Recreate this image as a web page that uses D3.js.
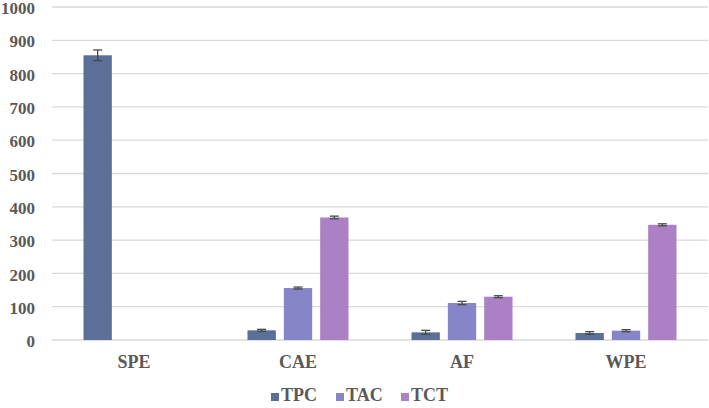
<!DOCTYPE html>
<html>
<head>
  <meta charset="utf-8">
  <title>TPC TAC TCT</title>
  <style>
    body { margin: 0; background: #fff; }
    text { font-family: "Liberation Serif", "Times New Roman", serif; font-weight: bold; fill: #595959; }
  </style>
</head>
<body>
  <svg></svg>
  <script src="https://cdnjs.cloudflare.com/ajax/libs/d3/7.8.5/d3.min.js"></script>
  <script>
    var width = 709,
      height = 408;

    // data
    var categories = ["SPE", "CAE", "AF", "WPE"];
    var series = ["TPC", "TAC", "TCT"];
    var colors = ["#5b6f99", "#8585c8", "#ab80c5"];
    var TPC = [855, 29, 23, 21];
    var TAC = [null, 156, 111, 28];
    var TCT = [null, 368, 130, 346];
    var TPCerr = [16, 3, 6, 4];
    var TACerr = [null, 3, 5, 3];
    var TCTerr = [null, 4, 3, 3];
    var yTicks = [0, 100, 200, 300, 400, 500, 600, 700, 800, 900, 1000];

    var values = [TPC, TAC, TCT];
    var errs = [TPCerr, TACerr, TCTerr];

    var margin = { left: 52, right: 1, top: 7, bottom: 68 };
    var svg = d3.select("svg").attr("width", width).attr("height", height);

    var y = d3.scaleLinear().domain([0, 1000])
      .range([height - margin.bottom, margin.top]);
    var x0 = d3.scaleBand().domain(categories)
      .range([margin.left, width - margin.right])
      .paddingInner(0.384).paddingOuter(0.192);
    var x1 = d3.scaleBand().domain(series)
      .range([0, x0.bandwidth()])
      .paddingInner(0.22).paddingOuter(0);

    // gridlines
    svg.append("g").selectAll("line").data(yTicks)
      .enter().append("line")
      .attr("x1", margin.left).attr("x2", width - margin.right)
      .attr("y1", d => y(d)).attr("y2", d => y(d))
      .style("stroke", "#d9d9d9").style("stroke-width", 1.3);

    // y tick labels
    svg.append("g").selectAll("text").data(yTicks)
      .enter().append("text")
      .attr("x", 35).attr("y", d => y(d))
      .attr("dy", "0.42em")
      .attr("text-anchor", "end")
      .attr("font-size", "17px")
      .text(d => d);

    // bars
    var rows = [];
    categories.forEach(function (c, i) {
      series.forEach(function (s, j) {
        if (values[j][i] != null) rows.push({ cat: c, s: s, j: j, v: values[j][i], e: errs[j][i] });
      });
    });

    svg.append("g").selectAll("rect").data(rows)
      .enter().append("rect")
      .attr("x", d => x0(d.cat) + x1(d.s))
      .attr("width", x1.bandwidth())
      .attr("y", d => y(d.v))
      .attr("height", d => y(0) - y(d.v))
      .style("fill", d => colors[d.j]);

    // error bars
    var cx = d => x0(d.cat) + x1(d.s) + x1.bandwidth() / 2;
    var eb = svg.append("g").selectAll("g").data(rows)
      .enter().append("g")
      .style("stroke", "#4a4a4a").style("stroke-width", 1.3);
    eb.append("line")
      .attr("x1", cx).attr("x2", cx)
      .attr("y1", d => y(d.v + d.e)).attr("y2", d => y(d.v - d.e));
    eb.append("line")
      .attr("x1", d => cx(d) - 4.5).attr("x2", d => cx(d) + 4.5)
      .attr("y1", d => y(d.v + d.e)).attr("y2", d => y(d.v + d.e));
    eb.append("line")
      .attr("x1", d => cx(d) - 4.5).attr("x2", d => cx(d) + 4.5)
      .attr("y1", d => y(d.v - d.e)).attr("y2", d => y(d.v - d.e));

    // category labels
    svg.append("g").selectAll("text").data(categories)
      .enter().append("text")
      .attr("x", d => x0(d) + x0.bandwidth() / 2)
      .attr("y", 368)
      .attr("text-anchor", "middle")
      .attr("font-size", "18px")
      .text(d => d);

    // legend
    var legX = [271, 336, 401];
    var leg = svg.append("g").selectAll("g").data(series)
      .enter().append("g")
      .attr("transform", (d, i) => "translate(" + legX[i] + ",401)");
    leg.append("rect")
      .attr("x", 0).attr("y", -8).attr("width", 8).attr("height", 8)
      .style("fill", (d, i) => colors[i]);
    leg.append("text")
      .attr("x", 10).attr("y", 0)
      .attr("font-size", "18px")
      .text(d => d);
  </script>
</body>
</html>
